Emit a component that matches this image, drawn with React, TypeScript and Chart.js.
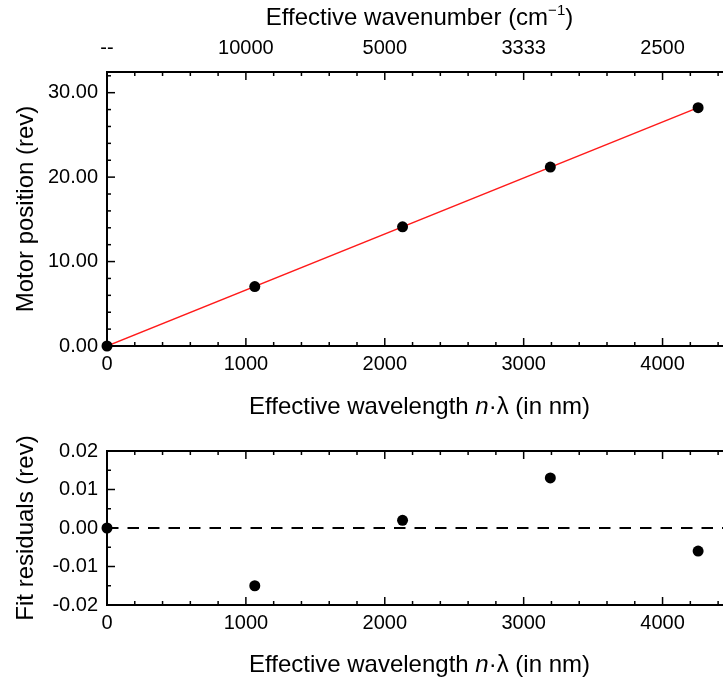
import React, { useEffect, useRef } from 'react';
import { Chart, registerables } from 'chart.js';

Chart.register(...registerables);

const FONT = "'Liberation Sans', Arial, Helvetica, sans-serif";

// ---- data ----
const wavelengthNm = [0, 1064, 2128, 3192, 4256];
const motorPositionRev = [0, 7.043, 14.117, 21.185, 28.224];
const fitLineX = [0, 4256];
const fitLineY = [0, 28.23];
const residualRev = [0, -0.015, 0.002, 0.013, -0.006];
const zeroLineX = [0, 4500];
const zeroLineY = [0, 0];

const xTickValues = [0, 1000, 2000, 3000, 4000];
const xTickLabels = ['0', '1000', '2000', '3000', '4000'];
const wavenumberTickLabels = ['--', '10000', '5000', '3333', '2500'];
const motorTickValues = [0, 10, 20, 30];
const motorTickLabels = ['0.00', '10.00', '20.00', '30.00'];
const residualTickValues = [-0.02, -0.01, 0, 0.01, 0.02];
const residualTickLabels = ['-0.02', '-0.01', '0.00', '0.01', '0.02'];

type Run = { t: string; italic?: boolean; sup?: boolean };
type TitleSpec = { runs: Run[]; side: 'top' | 'bottom' | 'left'; offset: number };
type FrameCfg = { xMinor: number; xMajor: number; yMinor: number; yMajor: number; titles: TitleSpec[] };

const TITLE_SIZE = 24;

function drawRuns(ctx: CanvasRenderingContext2D, runs: Run[], cx: number, cy: number, size: number, rotate: boolean) {
  ctx.save();
  ctx.translate(cx, cy);
  if (rotate) ctx.rotate(-Math.PI / 2);
  ctx.fillStyle = '#000';
  ctx.textBaseline = 'alphabetic';
  ctx.textAlign = 'left';
  const font = (r: Run) => `${r.italic ? 'italic ' : ''}${r.sup ? Math.round(size * 0.62) : size}px ${FONT}`;
  const widths = runs.map((r) => {
    ctx.font = font(r);
    return ctx.measureText(r.t).width;
  });
  const total = widths.reduce((a, b) => a + b, 0);
  let x = -total / 2;
  const base = size * 0.36;
  runs.forEach((r, i) => {
    ctx.font = font(r);
    ctx.fillText(r.t, x, r.sup ? base - size * 0.42 : base);
    x += widths[i];
  });
  ctx.restore();
}

function isMultiple(v: number, step: number) {
  const q = v / step;
  return Math.abs(q - Math.round(q)) < 1e-6;
}

function makeFrame(cfg: FrameCfg) {
  return {
    id: 'frame',
    beforeDatasetsDraw(chart: any) {
      const { ctx, chartArea: a, scales } = chart;
      const xs = scales.x;
      const ys = scales.y;
      ctx.save();
      ctx.strokeStyle = '#000';
      ctx.lineWidth = 1.5;
      const seg = (x1: number, y1: number, x2: number, y2: number) => {
        ctx.beginPath();
        ctx.moveTo(x1, y1);
        ctx.lineTo(x2, y2);
        ctx.stroke();
      };
      const nx = Math.floor((xs.max - xs.min) / cfg.xMinor + 1e-6);
      for (let i = 0; i <= nx; i++) {
        const v = xs.min + i * cfg.xMinor;
        const len = isMultiple(v, cfg.xMajor) ? 8 : 4;
        const px = xs.getPixelForValue(v);
        seg(px, a.bottom, px, a.bottom - len);
        seg(px, a.top, px, a.top + len);
      }
      const ny = Math.floor((ys.max - ys.min) / cfg.yMinor + 1e-6);
      for (let i = 0; i <= ny; i++) {
        const v = ys.min + i * cfg.yMinor;
        const len = isMultiple(v, cfg.yMajor) ? 8 : 4;
        const py = ys.getPixelForValue(v);
        seg(a.left, py, a.left + len, py);
      }
      ctx.lineWidth = 2;
      ctx.lineCap = 'square';
      seg(a.left, a.top, a.right, a.top);
      seg(a.left, a.top, a.left, a.bottom);
      seg(a.left, a.bottom, a.right, a.bottom);
      ctx.restore();
    },
    afterDraw(chart: any) {
      const { ctx, chartArea: a } = chart;
      cfg.titles.forEach((t) => {
        if (t.side === 'top') drawRuns(ctx, t.runs, (a.left + a.right) / 2, t.offset, TITLE_SIZE, false);
        else if (t.side === 'bottom') drawRuns(ctx, t.runs, (a.left + a.right) / 2, a.bottom + t.offset, TITLE_SIZE, false);
        else drawRuns(ctx, t.runs, t.offset, (a.top + a.bottom) / 2, TITLE_SIZE, true);
      });
    },
  };
}

const xTitleRuns: Run[] = [{ t: 'Effective wavelength ' }, { t: 'n', italic: true }, { t: '\u00b7\u03bb (in nm)' }];

function xScale(position: 'top' | 'bottom', labels: string[], padding: number, height: number) {
  return {
    type: 'linear',
    position,
    min: 0,
    max: 4500,
    grid: { display: false, drawTicks: false },
    border: { display: false },
    ticks: {
      padding,
      color: '#000',
      font: { size: 20, family: FONT },
      maxRotation: 0,
      autoSkip: false,
      callback: (_v: any, i: number) => labels[i],
    },
    afterBuildTicks: (s: any) => {
      s.ticks = xTickValues.map((value) => ({ value }));
    },
    afterFit: (s: any) => {
      s.height = height;
      s.paddingLeft = 0;
      s.paddingRight = 0;
    },
  };
}

function yScale(min: number, max: number, values: number[], labels: string[]) {
  return {
    type: 'linear',
    position: 'left',
    min,
    max,
    grid: { display: false, drawTicks: false },
    border: { display: false },
    ticks: {
      padding: 9,
      color: '#000',
      font: { size: 20, family: FONT },
      autoSkip: false,
      callback: (_v: any, i: number) => labels[i],
    },
    afterBuildTicks: (s: any) => {
      s.ticks = values.map((value) => ({ value }));
    },
    afterFit: (s: any) => {
      s.width = 107;
    },
  };
}

export default function App() {
  const topRef = useRef<HTMLCanvasElement>(null);
  const botRef = useRef<HTMLCanvasElement>(null);

  useEffect(() => {
    Chart.defaults.font.family = FONT;
    Chart.defaults.color = '#000';

    const top = new Chart(topRef.current as HTMLCanvasElement, {
      type: 'scatter',
      data: {
        datasets: [
          {
            data: wavelengthNm.map((x, i) => ({ x, y: motorPositionRev[i] })),
            backgroundColor: '#000',
            borderWidth: 0,
            pointRadius: 5.5,
            pointHoverRadius: 5.5,
            order: 0,
            clip: false,
          },
          {
            data: fitLineX.map((x, i) => ({ x, y: fitLineY[i] })),
            showLine: true,
            borderColor: '#ff1a1a',
            borderWidth: 1.5,
            pointRadius: 0,
            order: 1,
          },
        ],
      } as any,
      options: {
        responsive: false,
        animation: false,
        events: [],
        layout: { padding: 0, autoPadding: false },
        plugins: { legend: { display: false }, tooltip: { enabled: false } },
        scales: {
          x: xScale('bottom', xTickLabels, 6, 84),
          x2: xScale('top', wavenumberTickLabels, 12, 72),
          y: yScale(0, 32.45, motorTickValues, motorTickLabels),
        } as any,
      },
      plugins: [
        makeFrame({
          xMinor: 200,
          xMajor: 1000,
          yMinor: 2,
          yMajor: 10,
          titles: [
            { runs: [{ t: 'Effective wavenumber (cm' }, { t: '\u22121', sup: true }, { t: ')' }], side: 'top', offset: 16 },
            { runs: xTitleRuns, side: 'bottom', offset: 59 },
            { runs: [{ t: 'Motor position (rev)' }], side: 'left', offset: 24 },
          ],
        }) as any,
      ],
    });

    const bot = new Chart(botRef.current as HTMLCanvasElement, {
      type: 'scatter',
      data: {
        datasets: [
          {
            data: wavelengthNm.map((x, i) => ({ x, y: residualRev[i] })),
            backgroundColor: '#000',
            borderWidth: 0,
            pointRadius: 5.5,
            pointHoverRadius: 5.5,
            order: 0,
            clip: false,
          },
          {
            data: zeroLineX.map((x, i) => ({ x, y: zeroLineY[i] })),
            showLine: true,
            borderColor: '#000',
            borderWidth: 2,
            borderDash: [11.5, 9],
            pointRadius: 0,
            order: 1,
          },
        ],
      } as any,
      options: {
        responsive: false,
        animation: false,
        events: [],
        layout: { padding: { top: 20, left: 0, right: 0, bottom: 0 }, autoPadding: false },
        plugins: { legend: { display: false }, tooltip: { enabled: false } },
        scales: {
          x: xScale('bottom', xTickLabels, 6, 79),
          y: yScale(-0.02, 0.02, residualTickValues, residualTickLabels),
        } as any,
      },
      plugins: [
        makeFrame({
          xMinor: 200,
          xMajor: 1000,
          yMinor: 0.005,
          yMajor: 0.01,
          titles: [
            { runs: xTitleRuns, side: 'bottom', offset: 58 },
            { runs: [{ t: 'Fit residuals (rev)' }], side: 'left', offset: 24 },
          ],
        }) as any,
      ],
    });

    return () => {
      top.destroy();
      bot.destroy();
    };
  }, []);

  return (
    <div style={{ position: 'absolute', left: 0, top: 0, width: 723, height: 684, overflow: 'hidden', background: '#fff' }}>
      <canvas ref={topRef} width={732} height={430} style={{ position: 'absolute', left: 0, top: 0, width: 732, height: 430 }} />
      <canvas ref={botRef} width={732} height={254} style={{ position: 'absolute', left: 0, top: 430, width: 732, height: 254 }} />
    </div>
  );
}
